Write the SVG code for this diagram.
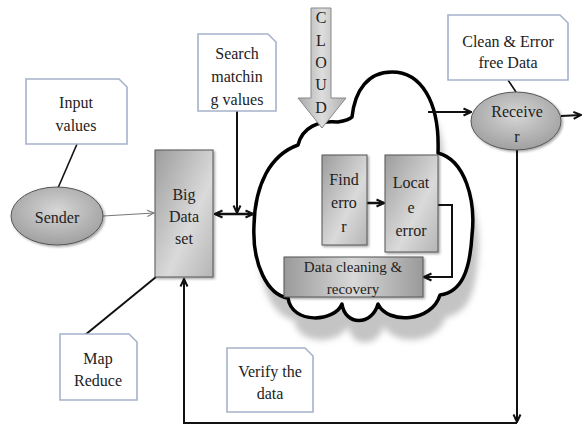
<svg xmlns="http://www.w3.org/2000/svg" width="582" height="425" viewBox="0 0 582 425">
<defs>
<style>
text{font-family:"Liberation Serif","DejaVu Serif",serif;font-size:16px;fill:#222;text-anchor:middle}
.call{fill:#fff;stroke:#a6b2cc;stroke-width:1.6}
.box{stroke:#555;stroke-width:1}
.ln{fill:none;stroke:#111;stroke-width:2}
.thin{fill:none;stroke:#777;stroke-width:1.2}
</style>
<linearGradient id="gBox" x1="0" y1="0" x2="1" y2="1">
<stop offset="0" stop-color="#9c9c9c"/><stop offset="0.6" stop-color="#dadada"/><stop offset="1" stop-color="#b5b5b5"/>
</linearGradient>
<linearGradient id="gH" x1="0" y1="0" x2="1" y2="0">
<stop offset="0" stop-color="#9a9a9a"/><stop offset="0.5" stop-color="#d8d8d8"/><stop offset="1" stop-color="#9a9a9a"/>
</linearGradient>
<linearGradient id="gArrow" x1="0" y1="0" x2="1" y2="0">
<stop offset="0" stop-color="#a8a8a8"/><stop offset="0.5" stop-color="#dddddd"/><stop offset="1" stop-color="#b0b0b0"/>
</linearGradient>
<radialGradient id="gEll" cx="0.5" cy="0.4" r="0.6">
<stop offset="0" stop-color="#d6d6d6"/><stop offset="1" stop-color="#a0a0a0"/>
</radialGradient>
<filter id="blur" x="-10%" y="-10%" width="120%" height="120%"><feGaussianBlur stdDeviation="3"/></filter>
<filter id="ds" x="-10%" y="-10%" width="130%" height="130%"><feDropShadow dx="1.5" dy="1.5" stdDeviation="1.2" flood-color="#000" flood-opacity="0.35"/></filter>
<marker id="arr" viewBox="0 0 10 10" refX="9" refY="5" markerWidth="10" markerHeight="10" markerUnits="userSpaceOnUse" orient="auto-start-reverse">
<path d="M1.5,1.5 L9,5 L1.5,8.5" fill="none" stroke="#111" stroke-width="2"/>
</marker>
<marker id="arrG" viewBox="0 0 10 10" refX="9" refY="5" markerWidth="9" markerHeight="9" markerUnits="userSpaceOnUse" orient="auto">
<path d="M1.5,1.5 L9,5 L1.5,8.5" fill="none" stroke="#777" stroke-width="1.3"/>
</marker>
<path id="cloudShape" d="M288 298 C268 295 252 265 254 225 C255 185 270 155 298 145 C302 128 318 120 338 122 C344 121 349 120 352 117 C355 90 368 72 392 72 C420 72 440 100 438 153 C465 160 476 200 472 235 C470 270 462 292 440 295 C432 322 388 325 378 304 C372 326 345 326 342 304 C335 322 292 325 288 298 Z"/>
</defs>
<rect width="582" height="425" fill="#fff"/>

<g id="cloud">
<use href="#cloudShape" transform="translate(6,22)" filter="url(#blur)" fill="#c4c4c4"/>
<use href="#cloudShape" fill="#fff" stroke="#000" stroke-width="3.5" stroke-linejoin="round"/>
</g>

<g id="cloud-arrow">
<path d="M311 8 H331 V98 H346 L322 128 L298 98 H311 Z" fill="url(#gArrow)" stroke="#888" stroke-width="1"/>
<text x="321" y="23">C</text>
<text x="321" y="46">L</text>
<text x="321" y="68">O</text>
<text x="321" y="90">U</text>
<text x="321" y="113">D</text>
</g>

<g id="connectors">
<line class="ln" x1="77" y1="144" x2="58" y2="188" style="stroke-width:1.6"/>
<line class="thin" x1="103" y1="216" x2="154" y2="213" marker-end="url(#arrG)"/>
<line class="ln" x1="237" y1="111" x2="237" y2="213" marker-end="url(#arr)"/>
<line class="ln" x1="215" y1="214" x2="253" y2="214" style="stroke-width:2.5" marker-start="url(#arr)" marker-end="url(#arr)"/>
<line class="ln" x1="85" y1="335" x2="156" y2="277"/>
<line class="ln" x1="367" y1="203" x2="384" y2="203" style="stroke-width:2.5" marker-end="url(#arr)"/>
<path class="ln" d="M438 205 H452 V277 H424" marker-end="url(#arr)"/>
<line class="ln" x1="428" y1="112" x2="471" y2="112" marker-end="url(#arr)"/>
<line class="ln" x1="508" y1="80" x2="516" y2="92" style="stroke-width:1.6"/>
<line class="ln" x1="561" y1="116" x2="581" y2="115" marker-end="url(#arr)"/>
<path class="ln" d="M517 150 V422" marker-end="url(#arr)"/>
<path class="ln" d="M517 423 H184 V279" marker-end="url(#arr)"/>
</g>

<g id="input-values">
<path class="call" d="M26 79 H119 L127 87 V144 H26 Z"/>
<text x="76" y="108">Input</text>
<text x="76" y="131">values</text>
</g>

<g id="search">
<path class="call" d="M198 34 H268 L276 42 V111 H198 Z"/>
<text x="237" y="59">Search</text>
<text x="237" y="82">matchin</text>
<text x="237" y="105">g values</text>
</g>

<g id="clean-data">
<path class="call" d="M448 15 H560 L568 23 V80 H448 Z"/>
<text x="508" y="47">Clean &amp; Error</text>
<text x="508" y="68">free Data</text>
</g>

<g id="map-reduce">
<path class="call" d="M60 334 H129 L137 342 V400 H60 Z"/>
<text x="98" y="364">Map</text>
<text x="98" y="386">Reduce</text>
</g>

<g id="verify">
<path class="call" d="M227 348 H305 L313 356 V412 H227 Z"/>
<text x="270" y="377">Verify the</text>
<text x="270" y="399">data</text>
</g>

<g id="sender">
<ellipse cx="57" cy="216" rx="46" ry="29" fill="url(#gEll)" stroke="#555" stroke-width="1" filter="url(#ds)"/>
<text x="57" y="223">Sender</text>
</g>

<g id="big-data">
<rect class="box" x="155" y="150" width="58" height="127" fill="url(#gBox)" filter="url(#ds)"/>
<text x="184" y="200">Big</text>
<text x="184" y="222">Data</text>
<text x="184" y="244">set</text>
</g>

<g id="find-error">
<rect class="box" x="322" y="155" width="45" height="90" fill="url(#gBox)" filter="url(#ds)"/>
<text x="344" y="185">Find</text>
<text x="344" y="208">erro</text>
<text x="344" y="232">r</text>
</g>

<g id="locate-error">
<rect class="box" x="385" y="155" width="53" height="97" fill="url(#gBox)" filter="url(#ds)"/>
<text x="411" y="188">Locat</text>
<text x="411" y="213">e</text>
<text x="411" y="236">error</text>
</g>

<g id="data-cleaning">
<rect class="box" x="284" y="257" width="139" height="40" fill="url(#gH)" filter="url(#ds)"/>
<text x="353" y="272" style="font-size:15px">Data cleaning &amp;</text>
<text x="353" y="294" style="font-size:15px">recovery</text>
</g>

<g id="receiver">
<ellipse cx="516" cy="121" rx="45" ry="29" fill="url(#gEll)" stroke="#555" stroke-width="1" filter="url(#ds)"/>
<text x="517" y="117">Receive</text>
<text x="517" y="142">r</text>
</g>
</svg>
